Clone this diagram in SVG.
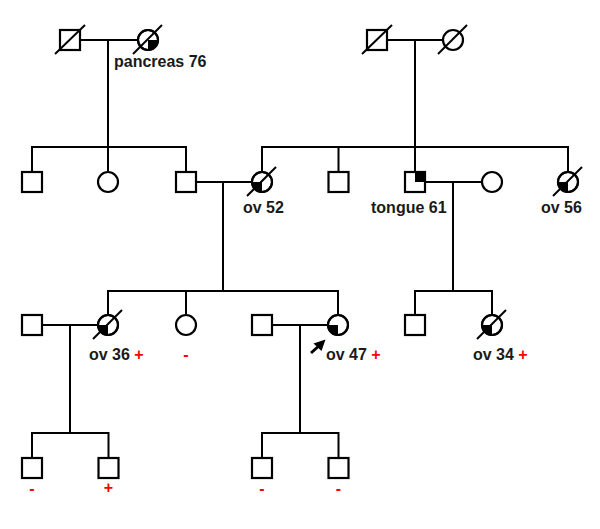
<svg xmlns="http://www.w3.org/2000/svg" width="600" height="529" viewBox="0 0 600 529">
<style>
.ln{stroke:#000;stroke-width:2;fill:none}
.sym{stroke:#000;stroke-width:2.2;fill:#fff}
.fill{fill:#000;stroke:none}
.lbl{font-family:"Liberation Sans",Arial,sans-serif;font-weight:bold;font-size:16px;fill:#1a1a1a}
.red{fill:#ff0000}
</style>
<rect width="600" height="529" fill="#fff"/>
<g id="connectors">
<path class="ln" d="M81 40H137M108 40V147M32 172V147H186V172M108 147V171"/>
<path class="ln" d="M387 40H443M415 40V147M262 171V147H568V171M338.5 147V172M415 147V172"/>
<path class="ln" d="M196 182H251M223 182V291M108 314V291H338V314M186 291V314"/>
<path class="ln" d="M425 182H481M453 182V291M415 315V291H492V314"/>
<path class="ln" d="M42 325H97M70 325V433M32 458V433H108.5V458"/>
<path class="ln" d="M272 325H327M300 325V433M262 458V433H338.5V458"/>
</g>
<g id="g1-m1"><rect class="sym" x="60" y="30" width="20" height="20"/><line class="ln" x1="55" y1="54" x2="85" y2="25"/></g>
<g id="g1-f1"><circle class="sym" cx="148" cy="40" r="10"/><path class="fill" d="M148 40H158A10 10 0 0 1 148 50Z"/><circle class="ln" cx="148" cy="40" r="10"/><line class="ln" x1="133" y1="54" x2="162" y2="25"/><text class="lbl" x="114" y="67">pancreas 76</text></g>
<g id="g1-m2"><rect class="sym" x="367" y="30" width="20" height="20"/><line class="ln" x1="362" y1="54" x2="392" y2="25"/></g>
<g id="g1-f2"><circle class="sym" cx="453" cy="40" r="10"/><line class="ln" x1="438" y1="54" x2="467" y2="25"/></g>
<g id="g2-m1"><rect class="sym" x="22" y="172" width="20" height="20"/></g>
<g id="g2-f1"><circle class="sym" cx="108" cy="182" r="10"/></g>
<g id="g2-m2"><rect class="sym" x="176" y="172" width="20" height="20"/></g>
<g id="g2-f2"><circle class="sym" cx="262" cy="182" r="10"/><path class="fill" d="M262 182H252A10 10 0 0 0 262 192Z"/><circle class="ln" cx="262" cy="182" r="10"/><line class="ln" x1="247" y1="196" x2="276" y2="167"/><text class="lbl" x="243" y="213">ov 52</text></g>
<g id="g2-m3"><rect class="sym" x="328.5" y="172" width="20" height="20"/></g>
<g id="g2-m4"><rect class="sym" x="405" y="172" width="20" height="20"/><rect class="fill" x="415" y="172" width="10" height="10"/><rect class="ln" x="405" y="172" width="20" height="20"/><text class="lbl" x="371" y="213">tongue 61</text></g>
<g id="g2-f3"><circle class="sym" cx="492" cy="182" r="10"/></g>
<g id="g2-f4"><circle class="sym" cx="568" cy="182" r="10"/><path class="fill" d="M568 182H558A10 10 0 0 0 568 192Z"/><circle class="ln" cx="568" cy="182" r="10"/><line class="ln" x1="553" y1="196" x2="582" y2="167"/><text class="lbl" x="541" y="213">ov 56</text></g>
<g id="g3-m1"><rect class="sym" x="22" y="315" width="20" height="20"/></g>
<g id="g3-f1"><circle class="sym" cx="108" cy="325" r="10"/><path class="fill" d="M108 325H98A10 10 0 0 0 108 335Z"/><circle class="ln" cx="108" cy="325" r="10"/><line class="ln" x1="93" y1="339" x2="122" y2="310"/><text class="lbl" x="89" y="360">ov 36 <tspan class="red">+</tspan></text></g>
<g id="g3-f2"><circle class="sym" cx="186" cy="325" r="10"/><text class="lbl red" x="186" y="360" text-anchor="middle">-</text></g>
<g id="g3-m2"><rect class="sym" x="252" y="315" width="20" height="20"/></g>
<g id="g3-f3"><circle class="sym" cx="338" cy="325" r="10"/><path class="fill" d="M338 325H328A10 10 0 0 0 338 335Z"/><circle class="ln" cx="338" cy="325" r="10"/><path class="ln" style="stroke-width:3" d="M311 353L321 344"/><path class="fill" d="M325.5 339.5L313.5 343.5L321.5 351Z"/><text class="lbl" x="326" y="360">ov 47 <tspan class="red">+</tspan></text></g>
<g id="g3-m3"><rect class="sym" x="405" y="315" width="20" height="20"/></g>
<g id="g3-f4"><circle class="sym" cx="492" cy="325" r="10"/><path class="fill" d="M492 325H482A10 10 0 0 0 492 335Z"/><circle class="ln" cx="492" cy="325" r="10"/><line class="ln" x1="477" y1="339" x2="506" y2="310"/><text class="lbl" x="473" y="360">ov 34 <tspan class="red">+</tspan></text></g>
<g id="g4-m1"><rect class="sym" x="22" y="458" width="20" height="20"/><text class="lbl red" x="32" y="494" text-anchor="middle">-</text></g>
<g id="g4-m2"><rect class="sym" x="98.5" y="458" width="20" height="20"/><text class="lbl red" x="108.5" y="493" text-anchor="middle">+</text></g>
<g id="g4-m3"><rect class="sym" x="252" y="458" width="20" height="20"/><text class="lbl red" x="262" y="494" text-anchor="middle">-</text></g>
<g id="g4-m4"><rect class="sym" x="328.5" y="458" width="20" height="20"/><text class="lbl red" x="338.5" y="494" text-anchor="middle">-</text></g>
</svg>
